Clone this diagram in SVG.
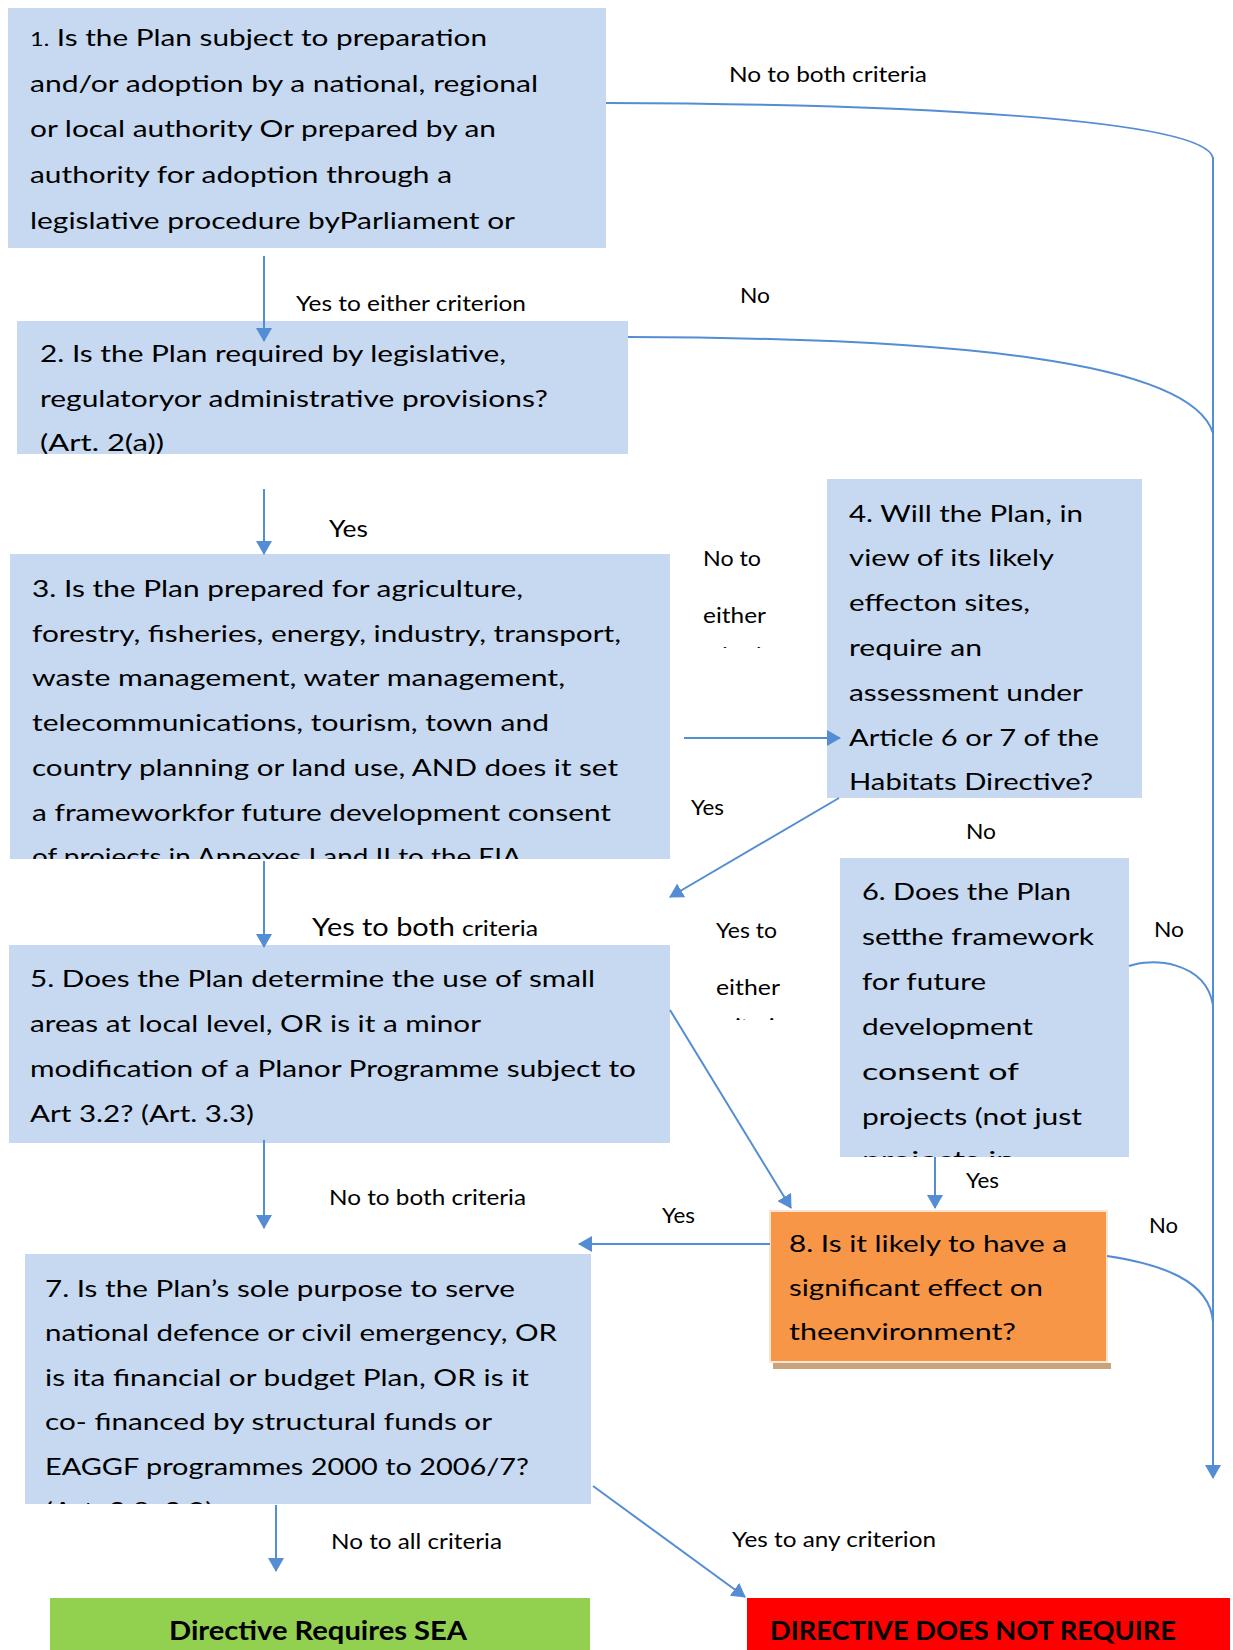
<svg xmlns="http://www.w3.org/2000/svg" width="1233" height="1650" viewBox="0 0 1233 1650">
<defs>
<style>
.box{fill:#C6D9F1}
.t{font-family:Lato,"Liberation Sans",sans-serif;font-size:24px;fill:#000}
.l{font-family:Lato,"Liberation Sans",sans-serif;font-size:22px;fill:#000}
.b{font-family:Lato,"Liberation Sans",sans-serif;font-size:26px;font-weight:bold;fill:#000}
.c{fill:none;stroke:#548DD4;stroke-width:2}
.a{marker-end:url(#arr)}
</style>
<marker id="arr" viewBox="0 0 14 16" refX="13" refY="8" markerWidth="14" markerHeight="16" markerUnits="userSpaceOnUse" orient="auto">
<path d="M0,0 L14,8 L0,16 z" fill="#548DD4"/>
</marker>
<clipPath id="cp1"><rect x="8" y="8" width="598" height="240"/></clipPath>
<clipPath id="cp2"><rect x="17" y="321" width="611" height="133"/></clipPath>
<clipPath id="cp3"><rect x="10" y="554" width="660" height="305"/></clipPath>
<clipPath id="cp4"><rect x="827" y="479" width="315" height="319"/></clipPath>
<clipPath id="cp5"><rect x="9" y="945" width="661" height="198"/></clipPath>
<clipPath id="cp6"><rect x="840" y="858" width="289" height="299"/></clipPath>
<clipPath id="cp7"><rect x="25" y="1254" width="566" height="250"/></clipPath>
<clipPath id="cpl1"><rect x="690" y="540" width="120" height="108"/></clipPath>
<clipPath id="cpl2"><rect x="700" y="910" width="120" height="110"/></clipPath>
</defs>
<rect width="1233" height="1650" fill="#fff"/>

<g id="node1">
<rect class="box" x="8" y="8" width="598" height="240"/>
<g clip-path="url(#cp1)">
<text class="t" x="30" y="46" textLength="457" lengthAdjust="spacingAndGlyphs"><tspan font-size="19">1.</tspan> Is the Plan subject to preparation</text>
<text class="t" x="30" y="92" textLength="508" lengthAdjust="spacingAndGlyphs">and/or adoption by a national, regional</text>
<text class="t" x="30" y="137" textLength="466" lengthAdjust="spacingAndGlyphs">or local authority Or prepared by an</text>
<text class="t" x="30" y="183" textLength="422" lengthAdjust="spacingAndGlyphs">authority for adoption through a</text>
<text class="t" x="30" y="229" textLength="485" lengthAdjust="spacingAndGlyphs">legislative procedure byParliament or</text>
</g>
</g>

<g id="node2">
<rect class="box" x="17" y="321" width="611" height="133"/>
<g clip-path="url(#cp2)">
<text class="t" x="40" y="362" textLength="466" lengthAdjust="spacingAndGlyphs">2. Is the Plan required by legislative,</text>
<text class="t" x="40" y="407" textLength="508" lengthAdjust="spacingAndGlyphs">regulatoryor administrative provisions?</text>
<text class="t" x="40" y="451" textLength="124" lengthAdjust="spacingAndGlyphs">(Art. 2(a))</text>
</g>
</g>

<g id="node3">
<rect class="box" x="10" y="554" width="660" height="305"/>
<g clip-path="url(#cp3)">
<text class="t" x="32" y="597" textLength="491" lengthAdjust="spacingAndGlyphs">3. Is the Plan prepared for agriculture,</text>
<text class="t" x="32" y="642" textLength="589" lengthAdjust="spacingAndGlyphs">forestry, fisheries, energy, industry, transport,</text>
<text class="t" x="32" y="686" textLength="533" lengthAdjust="spacingAndGlyphs">waste management, water management,</text>
<text class="t" x="32" y="731" textLength="517" lengthAdjust="spacingAndGlyphs">telecommunications, tourism, town and</text>
<text class="t" x="32" y="776" textLength="586" lengthAdjust="spacingAndGlyphs">country planning or land use, AND does it set</text>
<text class="t" x="32" y="821" textLength="579" lengthAdjust="spacingAndGlyphs">a frameworkfor future development consent</text>
<text class="t" x="32" y="865" textLength="489" lengthAdjust="spacingAndGlyphs">of projects in Annexes I and II to the EIA</text>
</g>
</g>

<g id="node4">
<rect class="box" x="827" y="479" width="315" height="319"/>
<g clip-path="url(#cp4)">
<text class="t" x="849" y="522" textLength="234" lengthAdjust="spacingAndGlyphs">4. Will the Plan, in</text>
<text class="t" x="849" y="566" textLength="205" lengthAdjust="spacingAndGlyphs">view of its likely</text>
<text class="t" x="849" y="611" textLength="181" lengthAdjust="spacingAndGlyphs">effecton sites,</text>
<text class="t" x="849" y="656" textLength="133" lengthAdjust="spacingAndGlyphs">require an</text>
<text class="t" x="849" y="701" textLength="234" lengthAdjust="spacingAndGlyphs">assessment under</text>
<text class="t" x="849" y="746" textLength="250" lengthAdjust="spacingAndGlyphs">Article 6 or 7 of the</text>
<text class="t" x="849" y="790" textLength="244" lengthAdjust="spacingAndGlyphs">Habitats Directive?</text>
</g>
</g>

<g id="node5">
<rect class="box" x="9" y="945" width="661" height="198"/>
<g clip-path="url(#cp5)">
<text class="t" x="30" y="987" textLength="565" lengthAdjust="spacingAndGlyphs">5. Does the Plan determine the use of small</text>
<text class="t" x="30" y="1032" textLength="451" lengthAdjust="spacingAndGlyphs">areas at local level, OR is it a minor</text>
<text class="t" x="30" y="1077" textLength="606" lengthAdjust="spacingAndGlyphs">modification of a Planor Programme subject to</text>
<text class="t" x="30" y="1122" textLength="224" lengthAdjust="spacingAndGlyphs">Art 3.2? (Art. 3.3)</text>
</g>
</g>

<g id="node6">
<rect class="box" x="840" y="858" width="289" height="299"/>
<g clip-path="url(#cp6)">
<text class="t" x="862" y="900" textLength="209" lengthAdjust="spacingAndGlyphs">6. Does the Plan</text>
<text class="t" x="862" y="945" textLength="232" lengthAdjust="spacingAndGlyphs">setthe framework</text>
<text class="t" x="862" y="990" textLength="124" lengthAdjust="spacingAndGlyphs">for future</text>
<text class="t" x="862" y="1035" textLength="171" lengthAdjust="spacingAndGlyphs">development</text>
<text class="t" x="862" y="1080" textLength="157" lengthAdjust="spacingAndGlyphs">consent of</text>
<text class="t" x="862" y="1125" textLength="220" lengthAdjust="spacingAndGlyphs">projects (not just</text>
<text class="t" x="862" y="1168" textLength="153" lengthAdjust="spacingAndGlyphs">projects in</text>
</g>
</g>

<g id="node7">
<rect class="box" x="25" y="1254" width="566" height="250"/>
<g clip-path="url(#cp7)">
<text class="t" x="45" y="1297" textLength="470" lengthAdjust="spacingAndGlyphs">7. Is the Plan’s sole purpose to serve</text>
<text class="t" x="45" y="1341" textLength="512" lengthAdjust="spacingAndGlyphs">national defence or civil emergency, OR</text>
<text class="t" x="45" y="1386" textLength="484" lengthAdjust="spacingAndGlyphs">is ita financial or budget Plan, OR is it</text>
<text class="t" x="45" y="1430" textLength="447" lengthAdjust="spacingAndGlyphs">co- financed by structural funds or</text>
<text class="t" x="45" y="1475" textLength="484" lengthAdjust="spacingAndGlyphs">EAGGF programmes 2000 to 2006/7?</text>
<text class="t" x="45" y="1519" textLength="168" lengthAdjust="spacingAndGlyphs">(Art. 3.8, 3.9)</text>
</g>
</g>

<g id="node8">
<rect x="773" y="1363" width="338" height="6" fill="#C9A27E"/>
<rect x="770" y="1211" width="337" height="151" fill="#F79646" stroke="#FCE4D0" stroke-width="2"/>
<text class="t" x="789" y="1252" textLength="278" lengthAdjust="spacingAndGlyphs">8. Is it likely to have a</text>
<text class="t" x="789" y="1296" textLength="254" lengthAdjust="spacingAndGlyphs">significant effect on</text>
<text class="t" x="789" y="1340" textLength="227" lengthAdjust="spacingAndGlyphs">theenvironment?</text>
</g>

<g id="node-requires">
<rect x="50" y="1598" width="540" height="52" fill="#92D050"/>
<text class="b" x="169" y="1640" textLength="298" lengthAdjust="spacingAndGlyphs">Directive Requires SEA</text>
</g>

<g id="node-not-require">
<rect x="747" y="1598" width="483" height="52" fill="#FF0000"/>
<text class="b" x="770" y="1640" textLength="406" lengthAdjust="spacingAndGlyphs">DIRECTIVE DOES NOT REQUIRE</text>
</g>

<g id="connectors">
<path class="c a" d="M606,103 C900,104 1205,118 1213,158 L1213,1478"/>
<path class="c" d="M628,337 C950,338 1190,360 1213,433"/>
<path class="c" d="M1129,966 C1150,958 1205,960 1213,1005"/>
<path class="c" d="M1107,1256 C1160,1264 1210,1280 1213,1322"/>
<path class="c a" d="M264,256 L264,341"/>
<path class="c a" d="M264,489 L264,554"/>
<path class="c a" d="M684,738 L840,738"/>
<path class="c a" d="M839,798 L670,897"/>
<path class="c a" d="M264,861 L264,947"/>
<path class="c a" d="M670,1010 L791,1208"/>
<path class="c a" d="M935,1157 L935,1208"/>
<path class="c a" d="M770,1244 L579,1244"/>
<path class="c a" d="M264,1140 L264,1228"/>
<path class="c a" d="M276,1505 L276,1571"/>
<path class="c a" d="M593,1486 L745,1597"/>
</g>

<g id="labels">
<text class="l" x="729" y="82" textLength="198" lengthAdjust="spacingAndGlyphs">No to both criteria</text>
<text class="l" x="296" y="311" textLength="230" lengthAdjust="spacingAndGlyphs">Yes to either criterion</text>
<text class="l" x="740" y="303" textLength="30" lengthAdjust="spacingAndGlyphs">No</text>
<text class="t" x="329" y="537" textLength="39" lengthAdjust="spacingAndGlyphs">Yes</text>
<g clip-path="url(#cpl1)">
<text class="l" x="703" y="566" textLength="58" lengthAdjust="spacingAndGlyphs">No to</text>
<text class="l" x="703" y="623" textLength="63" lengthAdjust="spacingAndGlyphs">either</text>
<text class="l" x="703" y="663" textLength="84" lengthAdjust="spacingAndGlyphs">criterion</text>
</g>
<text class="l" x="691" y="815" textLength="33" lengthAdjust="spacingAndGlyphs">Yes</text>
<text class="l" x="966" y="839" textLength="30" lengthAdjust="spacingAndGlyphs">No</text>
<text class="t" x="312" y="936"><tspan font-size="25" textLength="143" lengthAdjust="spacingAndGlyphs">Yes to both</tspan><tspan font-size="21" x="462" textLength="76" lengthAdjust="spacingAndGlyphs">criteria</tspan></text>
<g clip-path="url(#cpl2)">
<text class="l" x="716" y="938" textLength="61" lengthAdjust="spacingAndGlyphs">Yes to</text>
<text class="l" x="716" y="995" textLength="64" lengthAdjust="spacingAndGlyphs">either</text>
<text class="l" x="716" y="1034" textLength="84" lengthAdjust="spacingAndGlyphs">criterion</text>
</g>
<text class="l" x="1154" y="937" textLength="30" lengthAdjust="spacingAndGlyphs">No</text>
<text class="l" x="966" y="1188" textLength="33" lengthAdjust="spacingAndGlyphs">Yes</text>
<text class="l" x="662" y="1223" textLength="33" lengthAdjust="spacingAndGlyphs">Yes</text>
<text class="l" x="1149" y="1233" textLength="29" lengthAdjust="spacingAndGlyphs">No</text>
<text class="l" x="329" y="1205" textLength="197" lengthAdjust="spacingAndGlyphs">No to both criteria</text>
<text class="l" x="331" y="1549" textLength="171" lengthAdjust="spacingAndGlyphs">No to all criteria</text>
<text class="l" x="732" y="1547" textLength="204" lengthAdjust="spacingAndGlyphs">Yes to any criterion</text>
</g>
</svg>
